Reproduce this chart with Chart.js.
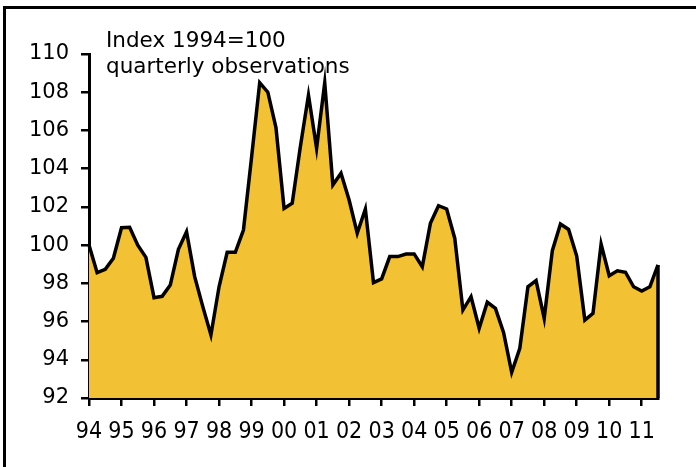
<!DOCTYPE html>
<html>
<head>
<meta charset="utf-8">
<script src="https://cdn.jsdelivr.net/npm/chart.js@4"></script>
<style>
  html, body { margin: 0; padding: 0; width: 696px; height: 467px; overflow: hidden; background: #fff; }
  #frame { position: absolute; left: 3px; top: 6px; width: 800px; height: 600px; border: 3px solid #000; }
  #wrap { position: absolute; left: 0; top: 0; width: 696px; height: 467px; }
  .note { position: absolute; left: 106px; font-family: 'DejaVu Sans', Verdana, sans-serif; font-size: 21.5px; line-height: 26px; color: #000; white-space: nowrap; }
</style>
</head>
<body>
<div id="frame"></div>
<div id="wrap"><canvas id="chart" width="696" height="467"></canvas></div>
<div class="note" style="top:27px">Index 1994=100<br>quarterly observations</div>
<script>
// year labels, one tick per first quarter
years = ['94', '95', '96', '97', '98', '99', '00', '01', '02', '03', '04', '05', '06', '07', '08', '09', '10', '11'];

// quarterly index, 1994 Q1 .. 2011 Q3
values = [
  100.0, 98.56, 98.73, 99.31,
  100.91, 100.93, 100.0, 99.36,
  97.25, 97.32, 97.91, 99.78,
  100.70, 98.35, 96.78, 95.30,
  97.82, 99.62, 99.62, 100.79,
  104.6, 108.5, 108.0, 106.15,
  101.92, 102.19, 105.15, 107.85,
  105.07, 108.5, 103.15, 103.76,
  102.36, 100.62, 101.89, 98.04,
  98.23, 99.40, 99.40, 99.53,
  99.54, 98.87, 101.14, 102.06,
  101.89, 100.35, 96.60, 97.30,
  95.65, 97.01, 96.69, 95.43,
  93.34, 94.60, 97.82, 98.14,
  96.17, 99.71, 101.10, 100.82,
  99.43, 96.08, 96.43, 100.06,
  98.40, 98.66, 98.58, 97.82,
  97.60, 97.82, 98.96
];

labels = [];
for (var i = 0; i < values.length; i++) {
  if (i % 4 === 0) {
    labels.push(years[i / 4]);
  }
  else {
    labels.push('');
  }
}

// closes the filled area on the right with a vertical edge
const rightEdge = {
  id: 'rightEdge',
  afterDatasetsDraw(chart) {
    const meta = chart.getDatasetMeta(0);
    const last = meta.data[meta.data.length - 1];
    const ctx = chart.ctx;
    ctx.save();
    ctx.strokeStyle = '#000';
    ctx.lineWidth = 3.5;
    ctx.beginPath();
    ctx.moveTo(last.x, last.y);
    ctx.lineTo(last.x, chart.chartArea.bottom);
    ctx.stroke();
    ctx.restore();
  }
};

new Chart(document.getElementById('chart'), {
  type: 'line',
  data: {
    labels: labels,
    datasets: [{
      data: values,
      borderColor: '#000',
      borderWidth: 3.5,
      borderJoinStyle: 'miter',
      backgroundColor: 'rgb(242, 194, 52)',
      fill: 'start',
      tension: 0,
      pointRadius: 0
    }]
  },
  options: {
    responsive: false,
    animation: false,
    layout: { padding: { left: 0, right: 38, top: 54, bottom: 0 } },
    plugins: {
      legend: { display: false },
      tooltip: { enabled: false }
    },
    scales: {
      x: {
        offset: false,
        afterFit: function(scale) { scale.height = 69; },
        border: { display: true, color: '#000', width: 3 },
        grid: { drawOnChartArea: false, drawTicks: true, tickLength: 8, color: '#000', lineWidth: 2.5 },
        ticks: {
          autoSkip: false,
          maxRotation: 0,
          padding: 12,
          color: '#000',
          font: { family: 'DejaVu Sans Condensed', size: 23 },
          callback: function(value, index) {
            return labels[index] === '' ? null : labels[index];
          }
        }
      },
      y: {
        min: 92,
        max: 110,
        afterFit: function(scale) { scale.width = 89; },
        border: { display: true, color: '#000', width: 3 },
        grid: { drawOnChartArea: false, drawTicks: true, tickLength: 8, color: '#000', lineWidth: 2.5 },
        ticks: {
          stepSize: 2,
          padding: 12,
          color: '#000',
          font: { family: 'DejaVu Sans', size: 21 }
        }
      }
    }
  },
  plugins: [rightEdge]
});
</script>
</body>
</html>
